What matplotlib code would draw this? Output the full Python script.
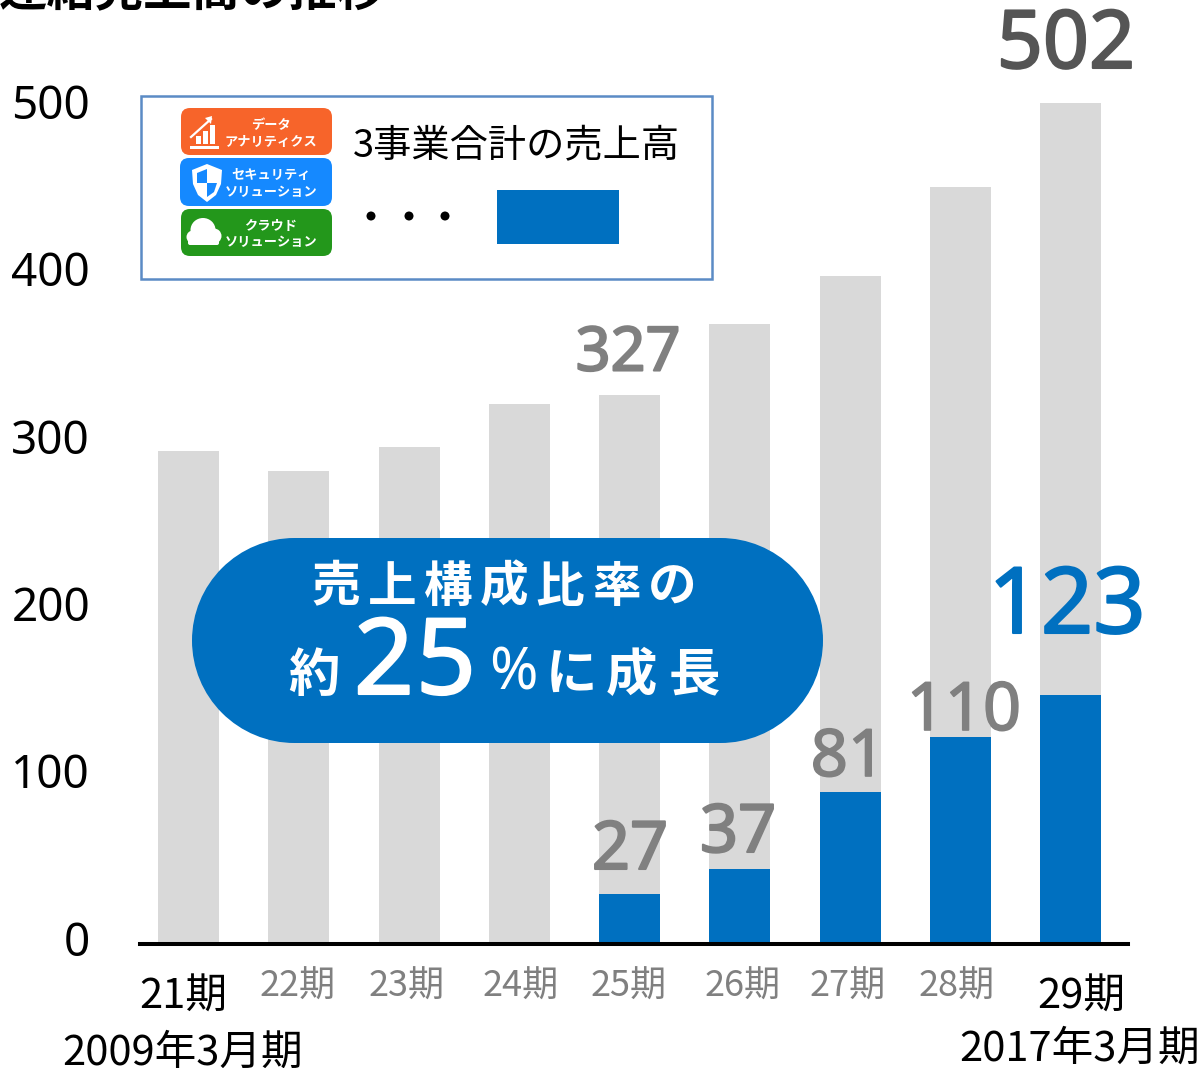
import matplotlib
matplotlib.use("Agg")
import matplotlib.pyplot as plt
import matplotlib.patheffects as pe
from matplotlib.patches import FancyBboxPatch, Rectangle, Polygon, Ellipse
from matplotlib.transforms import ScaledTranslation

plt.rcParams["font.family"] = ["Noto Sans CJK JP", "DejaVu Sans"]

# =========================================================
# DATA
# =========================================================
periods = ["21期", "22期", "23期", "24期", "25期", "26期", "27期", "28期", "29期"]
total_sales = [294, 282, 296.5, 322, 327.5, 370, 398.5, 452, 502]
security_bars = [0, 0, 0, 0, 29, 44, 90, 123, 148]

y_ticks = [0, 100, 200, 300, 400, 500]

GRAY = "#D9D9D9"
BLUE = "#0070C0"
W, H = 1204, 1068

# =========================================================
# CHART
# =========================================================
fig = plt.figure(figsize=(W / 100, H / 100), dpi=100)

PX_PER_UNIT = 1.673
BASE_PX = 943
TOP_PX = 60
ax = fig.add_axes([140 / W, 1 - BASE_PX / H, 988 / W, (BASE_PX - TOP_PX) / H])
ax.set_xlim((140 - 188.5) / 110.25, (1128 - 188.5) / 110.25)
ax.set_ylim(0, (BASE_PX - TOP_PX) / PX_PER_UNIT)

x = list(range(len(periods)))
ax.bar(x, total_sales, width=61 / 110.25, color=GRAY, zorder=1)
ax.bar(x, security_bars, width=61 / 110.25, color=BLUE, zorder=2)

for s in ["top", "right", "left"]:
    ax.spines[s].set_visible(False)
ax.spines["bottom"].set_linewidth(2.9)
ax.spines["bottom"].set_color("black")
ax.spines["bottom"].set_zorder(5)
ax.spines["bottom"].set_position(("outward", 1))
ax.set_xticks([])
ax.set_yticks(y_ticks)
ax.tick_params(axis="y", length=0, pad=36, labelsize=33, labelcolor="black")
shift = ScaledTranslation(0, 5 / 100, fig.dpi_scale_trans)
for lab in ax.get_yticklabels():
    lab.set_transform(lab.get_transform() + shift)
    lab.set_family(["Noto Sans", "DejaVu Sans"])

# =========================================================
# OVERLAY IN PIXELS
# =========================================================
ov = fig.add_axes([0, 0, 1, 1], zorder=10)
ov.set_xlim(0, W)
ov.set_ylim(H, 0)
ov.axis("off")
ov.patch.set_alpha(0)


def label(px, py, s, size, color="black", weight="normal", family=None, stroke=0):
    t = ov.text(px, py, s, fontsize=size, color=color, fontweight=weight,
                ha="center", va="center",
                family=family or ["Noto Sans CJK JP", "DejaVu Sans"])
    if stroke:
        t.set_path_effects([pe.withStroke(linewidth=stroke, foreground=color)])
    return t


def rounded(x0, y0, x1, y1, r, color):
    ov.add_patch(FancyBboxPatch((x0 + r, y0 + r), x1 - x0 - 2 * r, y1 - y0 - 2 * r,
                                boxstyle=f"round,pad={r},rounding_size={r}",
                                fc=color, ec="none"))


# Title, cut off by the top edge
ov.text(192, 16, "連結売上高の推移", fontsize=34.8, fontweight="bold", ha="center", va="bottom")

# Legend box
ov.add_patch(Rectangle((141, 96), 571, 183, fc="white", ec="#5B8BC5", lw=1.8))
rounded(181, 108, 332, 155, 9, "#F7642A")
rounded(180, 158, 332, 206, 9, "#1589FF")
rounded(181, 209, 332, 256, 9, "#23971B")

label(271, 125, "データ", 9.5, "white", "bold")
label(271, 142, "アナリティクス", 9.5, "white", "bold")
label(271, 175, "セキュリティ", 9.5, "white", "bold")
label(271, 192, "ソリューション", 9.5, "white", "bold")
label(271, 226, "クラウド", 9.5, "white", "bold")
label(271, 242, "ソリューション", 9.5, "white", "bold")

# Badge icons
for bx, bh in zip([196, 203, 210], [8, 13, 19]):
    ov.add_patch(Rectangle((bx, 144 - bh), 4.5, bh, fc="white", ec="none"))
ov.add_patch(Rectangle((190, 146), 29, 2.5, fc="white", ec="none"))
ov.plot([191, 211], [137, 119], color="white", lw=1.6)
ov.add_patch(Polygon([[212, 116], [205, 118], [211, 124]], fc="white", ec="none"))

ov.add_patch(Polygon([[207, 164], [192, 170], [193, 184], [198, 195], [207, 202],
                      [216, 195], [221, 184], [222, 170]], fc="white", ec="none"))
ov.add_patch(Polygon([[207, 169], [197, 173], [197, 183], [207, 183]], fc="#1589FF", ec="none"))
ov.add_patch(Polygon([[207, 183], [217, 183], [214, 192], [207, 197]], fc="#1589FF", ec="none"))

ov.add_patch(Ellipse((203, 230), 25, 24, fc="white", ec="none"))
ov.add_patch(Ellipse((214, 236), 15, 15, fc="white", ec="none"))
ov.add_patch(Ellipse((193, 237), 13, 13, fc="white", ec="none"))
ov.add_patch(FancyBboxPatch((190, 236), 27, 7, boxstyle="round,pad=2,rounding_size=2",
                            fc="white", ec="none"))

label(516, 147, "3事業合計の売上高", 27.5)
for dx in [371, 409, 445]:
    ov.add_patch(Ellipse((dx, 216), 9, 9, fc="black", ec="none"))
ov.add_patch(Rectangle((497, 190), 122, 54, fc=BLUE, ec="none"))

# Value labels
NUM = ["Noto Sans", "DejaVu Sans"]
label(1066, 47, "502", 58, "#555555", family=NUM, stroke=1.5)
label(628, 355, "327", 44, "#808080", family=NUM, stroke=1.5)
label(630, 851, "27", 48, "#808080", family=NUM, stroke=1.5)
label(738, 834, "37", 48, "#808080", family=NUM, stroke=1.5)
label(848, 759, "81", 47, "#808080", family=NUM, stroke=1.2)
label(964, 712, "110", 48, "#808080", family=NUM, stroke=1.2)
label(1067, 609, "123", 66, BLUE, family=NUM, stroke=1.5)

# Pill callout
ov.add_patch(Rectangle((294.5, 538), 426, 205, fc=BLUE, ec="none"))
ov.add_patch(Ellipse((294.5, 640.5), 205, 205, fc=BLUE, ec="none"))
ov.add_patch(Ellipse((720.5, 640.5), 205, 205, fc=BLUE, ec="none"))
for i, ch in enumerate("売上構成比率の"):
    label(336 + i * 56, 587, ch, 35, "white", "bold")
label(314, 675, "約", 37, "white", "bold")
label(384, 666, "2", 76, "white", family=NUM, stroke=1.5)
label(446, 666, "5", 76, "white", family=NUM, stroke=1.5)
label(513, 674, "%", 42, "white", "bold", NUM)
label(571, 675, "に", 37, "white", "bold")
label(631, 675, "成", 37, "white", "bold")
label(694, 675, "長", 37, "white", "bold")

# Period labels
label_x = [183, 298, 407, 521, 629, 743, 848, 957, 1081]
for i, (name, lx) in enumerate(zip(periods, label_x)):
    if i == 0 or i == len(periods) - 1:
        label(lx, 997, name, 30)
    else:
        label(lx, 987, name, 26, "#808080")
label(183, 1053, "2009年3月期", 30)
label(1080, 1049, "2017年3月期", 30)

fig.savefig("out.png", dpi=100)
